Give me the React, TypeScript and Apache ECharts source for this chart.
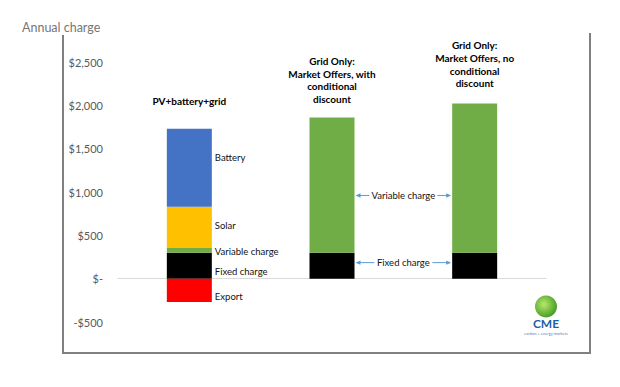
import React, { useEffect, useRef } from "react";
import * as echarts from "echarts";

const categories = ["PV+battery+grid", "Grid Only:\nMarket Offers, with\nconditional\ndiscount", "Grid Only:\nMarket Offers, no\nconditional\ndiscount"];
const fixedCharge = [300, 300, 300];
const variableCharge = [55, 1560, 1720];
const solar = [475, null, null];
const battery = [900, null, null];
const exportVals = [-270, null, null];
const yTicks = [-500, 0, 500, 1000, 1500, 2000, 2500];

const FONT = "Lato, 'Noto Sans', sans-serif";

const fmtY = (v: number) => {
  if (v === 0) return "$-";
  const s = "$" + Math.abs(v).toLocaleString("en-US");
  return v < 0 ? "-" + s : s;
};

const sideLabel = (text: string, dy: number) => ({
  show: true,
  position: "right",
  distance: 3,
  formatter: text,
  offset: [0, dy],
  fontFamily: FONT,
  fontSize: 9.5,
  color: "#111",
});

export default function App() {
  const ref = useRef<HTMLDivElement>(null);
  useEffect(() => {
    document.body.style.margin = "0";
    const chart = echarts.init(ref.current!, null, { renderer: "svg" });
    const mk = (name: string, data: (number | null)[], color: string, labelText: string, dy: number) => ({
      name,
      type: "bar",
      stack: "total",
      barWidth: 45,
      itemStyle: { color },
      data: data.map((v, i) => (i === 0 ? { value: v, label: sideLabel(labelText, dy) } : v)),
    });
    chart.setOption({
      animation: false,
      grid: { left: 118, right: 74, top: 62, bottom: 65 },
      xAxis: {
        type: "category",
        data: categories,
        axisLine: { onZero: true, lineStyle: { color: "#d9d9d9", width: 1 } },
        axisTick: { show: false },
        axisLabel: { show: false },
      },
      yAxis: {
        type: "value",
        min: yTicks[0],
        max: yTicks[yTicks.length - 1],
        interval: 500,
        axisLine: { show: false },
        axisTick: { show: false },
        splitLine: { show: false },
        axisLabel: { formatter: fmtY, fontFamily: FONT, fontSize: 11, color: "#595959", margin: 15 },
      },
      series: [
        mk("Fixed charge", fixedCharge, "#000000", "Fixed charge", 6),
        mk("Variable charge", variableCharge, "#70ad47", "Variable charge", 1),
        mk("Solar", solar, "#ffc000", "Solar", -2),
        mk("Battery", battery, "#4472c4", "Battery", -10),
        mk("Export", exportVals, "#ff0000", "Export", 6),
      ],
    });

    const px = (i: number, v: number) => chart.convertToPixel({ gridIndex: 0 }, [i, v]) as number[];
    const totals = categories.map((_, i) =>
      [fixedCharge, variableCharge, solar, battery].reduce((s, arr) => s + (arr[i] || 0), 0)
    );
    const gaps = [21, 12, 14];
    const graphics: any[] = [];
    categories.forEach((c, i) => {
      const p = px(i, totals[i]);
      graphics.push({
        type: "text",
        x: p[0],
        y: p[1] - gaps[i],
        style: {
          text: c,
          align: "center",
          verticalAlign: "bottom",
          fontFamily: FONT,
          fontWeight: "bold",
          fontSize: 10,
          lineHeight: 12.7,
          fill: "#000",
        },
      });
    });
    const half = 22.5;
    const arrowColor = "#5b9bd5";
    const addArrowLabel = (text: string, value: number, gapL: number, gapR: number) => {
      const a = px(1, value);
      const b = px(2, value);
      const x1 = a[0] + half + 1;
      const x2 = b[0] - half - 1;
      const y = a[1];
      const mid = (x1 + x2) / 2;
      graphics.push({
        type: "text",
        x: mid,
        y,
        style: { text, align: "center", verticalAlign: "middle", fontFamily: FONT, fontSize: 9.5, fill: "#111" },
      });
      graphics.push({ type: "line", shape: { x1: x1 + 3, y1: y, x2: mid - gapL, y2: y }, style: { stroke: arrowColor, lineWidth: 1 } });
      graphics.push({ type: "polygon", shape: { points: [[x1, y], [x1 + 5, y - 2.2], [x1 + 5, y + 2.2]] }, style: { fill: arrowColor } });
      graphics.push({ type: "line", shape: { x1: mid + gapR, y1: y, x2: x2 - 3, y2: y }, style: { stroke: arrowColor, lineWidth: 1 } });
      graphics.push({ type: "polygon", shape: { points: [[x2, y], [x2 - 5, y - 2.2], [x2 - 5, y + 2.2]] }, style: { fill: arrowColor } });
    };
    addArrowLabel("Variable charge", 960, 34, 34);
    addArrowLabel("Fixed charge", 185, 29, 29);

    // frame
    const frame = "#808080";
    graphics.push({ type: "line", shape: { x1: 63, y1: 35, x2: 63, y2: 353 }, style: { stroke: frame, lineWidth: 2 } });
    graphics.push({ type: "line", shape: { x1: 62, y1: 353, x2: 591, y2: 353 }, style: { stroke: frame, lineWidth: 2 } });
    graphics.push({ type: "line", shape: { x1: 590, y1: 33, x2: 590, y2: 354 }, style: { stroke: frame, lineWidth: 2 } });
    graphics.push({
      type: "text",
      x: 22,
      y: 27,
      style: { text: "Annual charge", verticalAlign: "middle", fontFamily: FONT, fontSize: 12.5, fill: "#767676" },
    });
    // logo
    graphics.push({
      type: "circle",
      shape: { cx: 546, cy: 306.5, r: 11 },
      style: {
        fill: new echarts.graphic.RadialGradient(0.4, 0.4, 0.65, [
          { offset: 0, color: "#b8e86a" },
          { offset: 1, color: "#3f9a22" },
        ]),
      },
    });
    graphics.push({
      type: "text",
      x: 546,
      y: 323.5,
      style: { text: "CME", align: "center", verticalAlign: "middle", fontFamily: FONT, fontWeight: "bold", fontSize: 12, lineHeight: 12, fill: "#1f5ea8" },
    });
    graphics.push({
      type: "text",
      x: 546,
      y: 333.5,
      style: { text: "carbon + energy markets", align: "center", verticalAlign: "middle", fontFamily: FONT, fontSize: 4, lineHeight: 4, fill: "#5b7fbf" },
    });
    chart.setOption({ graphic: graphics });
    return () => chart.dispose();
  }, []);
  return <div ref={ref} style={{ width: 620, height: 387 }} />;
}
